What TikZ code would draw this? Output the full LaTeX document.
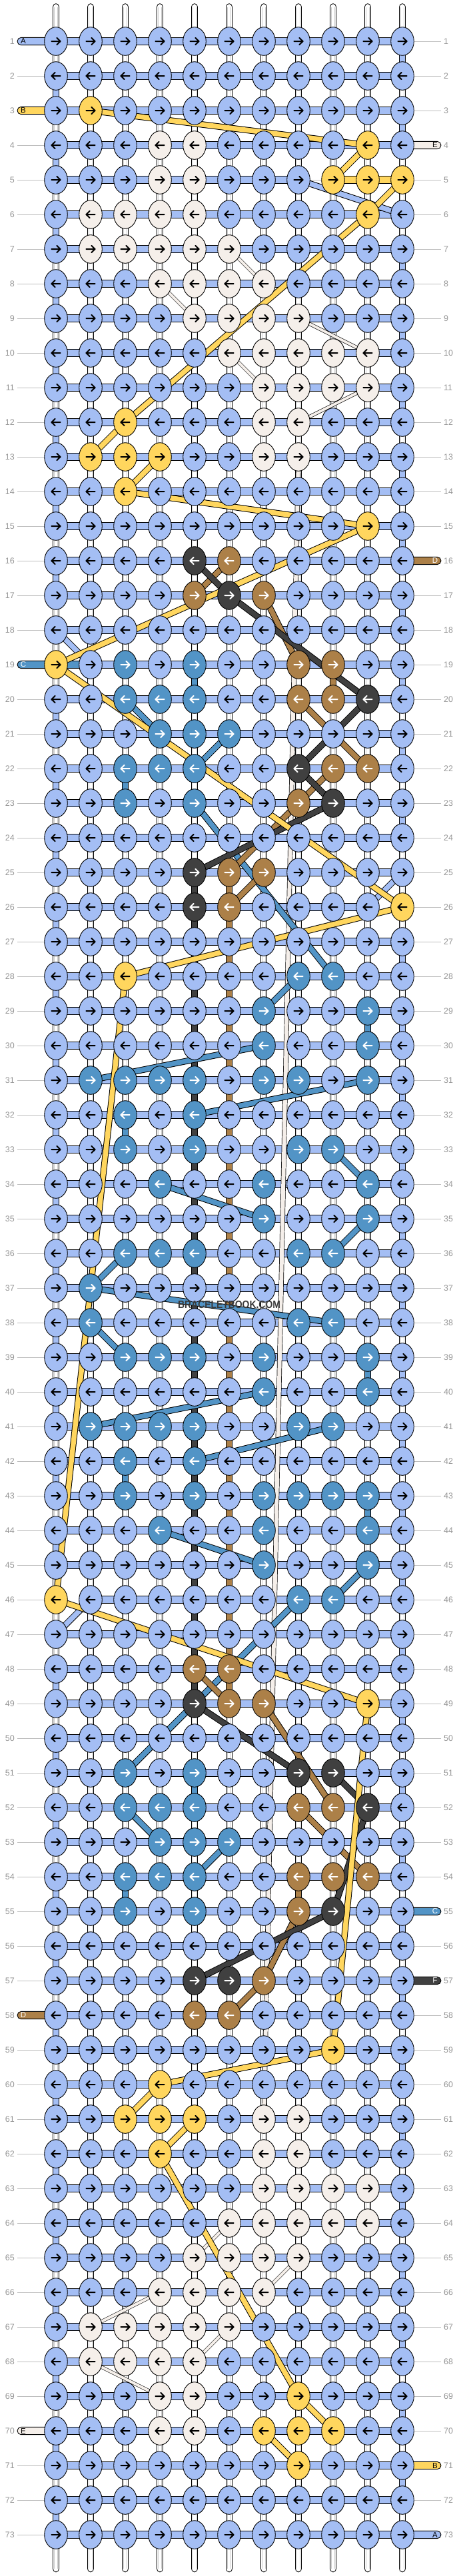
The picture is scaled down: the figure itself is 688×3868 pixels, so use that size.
\documentclass[tikz,border=0pt]{standalone}
\usepackage{fontspec}
\setmainfont{Liberation Sans}
\usetikzlibrary{shapes.geometric}
\definecolor{knotb}{HTML}{A4BEF4}
\definecolor{knoty}{HTML}{FFD65E}
\definecolor{knotw}{HTML}{F5EFEA}
\definecolor{knott}{HTML}{5294C6}
\definecolor{knotn}{HTML}{AC8048}
\definecolor{knotk}{HTML}{404040}
\colorlet{arrowb}{black}
\colorlet{arrowy}{black}
\colorlet{arroww}{black}
\colorlet{arrowt}{white}
\colorlet{arrown}{white}
\colorlet{arrowk}{white}
\definecolor{numgray}{HTML}{969696}
\definecolor{linegray}{HTML}{BDBDBD}
\definecolor{wmgray}{HTML}{3A3A3A}
\begin{document}
\begin{tikzpicture}[x=1pt,y=-1pt,
  knot/.style={ellipse, draw=black, line width=0.9pt, minimum width=34.6pt, minimum height=42.6pt, inner sep=0pt},
  arrowline/.style={line width=2pt, line cap=round, line join=round},
  strandln/.style={draw=black, line width=1pt, double=#1, double distance=7.5pt},
  thinln/.style={draw=black, line width=0.6pt, double=knotw, double distance=4pt},
  vseg/.style={draw=black, line width=1pt, double=#1, double distance=8.7pt},
  hbar/.style={draw=black, line width=1pt, double=#1, double distance=9.3pt},
  numtxt/.style={text=numgray, font=\fontsize{12.5}{14}\selectfont, inner sep=0pt},
  tabtxt/.style={font=\fontsize{11.5}{12}\selectfont, inner sep=0pt},
  rowline/.style={draw=linegray, line width=1pt},
  tabbox/.style={draw=black, line width=0.9pt, rounded corners=5.6pt}
]
\useasboundingbox (0,0) rectangle (688,3868);
\fill[white] (0,0) rectangle (688,3868);
% grid coordinates
\foreach \r in {1,...,73}{\foreach \c in {1,...,11}{\coordinate (p\r-\c) at ({84+52*(\c-1)},{62+52*(\r-1)});}}
% row guide lines
\foreach \r in {1,...,73}{
  \pgfmathsetmacro\yy{62+52*(\r-1)}
  \coordinate (gl\r) at (26,\yy);
  \coordinate (gr\r) at (662,\yy);
  \draw[rowline] (gl\r) -- (p\r-1);
  \draw[rowline] (p\r-11) -- (gr\r);
}
% vertical base strands
\foreach \c in {1,...,11}{
  \coordinate (tt\c) at ({84+52*(\c-1)},10.5);
  \coordinate (tb\c) at ({84+52*(\c-1)},3857);
  \draw[line width=10.7pt, black, line cap=round] (tt\c) -- (tb\c);
  \draw[line width=8.7pt, white, line cap=round] (tt\c) -- (tb\c);
  \draw[line width=5.8pt, black!20] (tt\c) -- (tb\c);
  \draw[line width=4.2pt, white] (tt\c) -- (tb\c);
}
% edge turns of strand A
\foreach \r in {1,3,...,71}{\ifnum\r=5\relax\else\ifnum\r=25\relax\else
  \pgfmathtruncatemacro\rn{\r+1}\draw[vseg=knotb] (p\r-11) -- (p\rn-11);\fi\fi}
\foreach \r in {2,4,...,72}{\ifnum\r=18\relax\else\ifnum\r=46\relax\else
  \pgfmathtruncatemacro\rn{\r+1}\draw[vseg=knotb] (p\r-1) -- (p\rn-1);\fi\fi}
% coloured vertical runs
\draw[vseg=knotk] (p25-5) -- (p49-5);
\draw[vseg=knotn] (p25-6) -- (p49-6);
\foreach \a/\b in {19-5/20-5, 22-3/23-3, 29-10/30-10, 32-3/33-3, 39-10/40-10, 42-3/43-3, 43-10/44-10, 51-5/52-5, 54-3/55-3}
  {\draw[vseg=knott] (p\a) -- (p\b);}
\foreach \a/\b in {19-9/20-9, 54-8/55-8}{\draw[vseg=knotn] (p\a) -- (p\b);}
% horizontal bars
\foreach \r in {1,...,73}{\ifnum\r=5\relax
  \draw[hbar=knotb] (p5-1) -- (p5-8);
  \draw[linegray, line width=1pt] (p5-8) -- (p5-9);
  \draw[hbar=knoty] (p5-9) -- (p5-11);
  \else\ifnum\r=26\relax
  \draw[hbar=knotb] (p26-1) -- (p26-10);
  \else\ifnum\r=46\relax
  \draw[hbar=knotb] (p46-2) -- (p46-11);
  \else\draw[hbar=knotb] (p\r-1) -- (p\r-11);\fi\fi\fi}
\draw[hbar=knott] (p19-1) -- (p19-2);
% strand tabs
\foreach \r/\l/\f/\t in {1/A/knotb/black, 3/B/knoty/black, 19/C/knott/white, 58/D/knotn/white, 70/E/knotw/black}{
  \pgfmathsetmacro\yy{62+52*(\r-1)}
  \draw[tabbox, fill=\f] (26,\yy-5.65) rectangle (76,\yy+5.65);
  \node[tabtxt, text=\t] (lt\r) at (35,\yy) {\l};
}
\foreach \r/\l/\f/\t in {4/E/knotw/black, 16/D/knotn/white, 55/C/knott/white, 57/F/knotk/white, 71/B/knoty/black, 73/A/knotb/black}{
  \pgfmathsetmacro\yy{62+52*(\r-1)}
  \draw[tabbox, fill=\f] (612,\yy-5.65) rectangle (662,\yy+5.65);
  \node[tabtxt, text=\t] (rt\r) at (653,\yy) {\l};
}
% carried strands
\foreach \a/\b in {7-6/8-7, 8-4/9-5, 9-8/10-10, 10-6/11-7, 11-10/12-8, 64-6/65-5, 65-8/66-7, 66-4/67-2, 67-6/68-5, 68-2/69-4}
  {\draw[thinln] (p\a) -- (p\b);}
\draw[draw=black, line width=0.7pt, double=knotw, double distance=6pt] (p13-8) -- (p61-7);
\foreach \a/\b in {5-8/6-11, 18-1/19-2, 25-11/26-10, 46-2/47-1}{\draw[strandln=knotb] (p\a) -- (p\b);}
\foreach \a/\b in {20-3/21-4, 21-6/22-5, 23-5/28-9, 28-8/29-7, 30-7/31-2, 31-10/32-5, 33-9/34-10, 34-4/35-7, 35-10/36-9, 36-3/37-2, 37-2/38-9, 38-2/39-3, 40-7/41-2, 41-9/42-5, 44-4/45-7, 45-10/46-9, 46-8/51-3, 52-3/53-4, 53-6/54-5}
  {\draw[strandln=knott] (p\a) -- (p\b);}
\foreach \a/\b in {16-6/17-5, 17-7/19-8, 20-8/22-10, 22-9/23-8, 23-8/25-6, 25-7/26-6, 48-5/49-6, 49-7/52-9, 52-8/54-10, 55-8/57-7, 57-7/58-6}
  {\draw[strandln=knotn] (p\a) -- (p\b);}
\foreach \a/\b in {16-5/17-6, 17-6/20-10, 20-10/22-8, 22-8/23-9, 23-9/25-5, 49-5/51-8, 51-9/52-10, 52-10/55-9, 55-9/57-5}
  {\draw[strandln=knotk] (p\a) -- (p\b);}
\foreach \a/\b in {3-2/4-10, 4-10/5-9, 5-11/6-10, 6-10/12-3, 12-3/13-2, 13-4/14-3, 14-3/15-10, 15-10/19-1, 19-1/26-11, 26-11/28-3, 28-3/46-1, 46-1/49-10, 49-10/59-9, 59-9/60-4, 60-4/61-3, 61-5/62-4, 62-4/69-8, 69-8/70-9, 70-7/71-8}
  {\draw[strandln=knoty] (p\a) -- (p\b);}
% knots
\foreach \r/\row in {
1/{b,b,b,b,b,b,b,b,b,b,b},
2/{b,b,b,b,b,b,b,b,b,b,b},
3/{b,y,b,b,b,b,b,b,b,b,b},
4/{b,b,b,w,w,b,b,b,b,y,b},
5/{b,b,b,w,w,b,b,b,y,y,y},
6/{b,w,w,w,w,b,b,b,b,y,b},
7/{b,w,w,w,w,w,b,b,b,b,b},
8/{b,b,b,w,w,w,w,b,b,b,b},
9/{b,b,b,b,w,w,w,w,b,b,b},
10/{b,b,b,b,b,w,w,w,w,w,b},
11/{b,b,b,b,b,b,w,w,w,w,b},
12/{b,b,y,b,b,b,w,w,b,b,b},
13/{b,y,y,y,b,b,w,w,b,b,b},
14/{b,b,y,b,b,b,b,b,b,b,b},
15/{b,b,b,b,b,b,b,b,b,y,b},
16/{b,b,b,b,k,n,b,b,b,b,b},
17/{b,b,b,b,n,k,n,b,b,b,b},
18/{b,b,b,b,b,b,b,b,b,b,b},
19/{y,b,t,b,t,b,b,n,n,b,b},
20/{b,b,t,t,t,b,b,n,n,k,b},
21/{b,b,b,t,t,t,b,b,b,b,b},
22/{b,b,t,t,t,b,b,k,n,n,b},
23/{b,b,t,b,t,b,b,n,k,b,b},
24/{b,b,b,b,b,b,b,b,b,b,b},
25/{b,b,b,b,k,n,n,b,b,b,b},
26/{b,b,b,b,k,n,b,b,b,b,y},
27/{b,b,b,b,b,b,b,b,b,b,b},
28/{b,b,y,b,b,b,b,t,t,b,b},
29/{b,b,b,b,b,b,t,b,b,t,b},
30/{b,b,b,b,b,b,t,b,b,t,b},
31/{b,t,t,t,t,b,t,t,b,t,b},
32/{b,b,t,b,t,b,b,b,b,b,b},
33/{b,b,t,b,t,b,b,t,t,b,b},
34/{b,b,b,t,b,b,t,b,b,t,b},
35/{b,b,b,b,b,b,t,b,b,t,b},
36/{b,b,t,t,t,b,b,t,t,b,b},
37/{b,t,b,b,b,b,b,b,b,b,b},
38/{b,t,b,b,b,b,b,t,t,b,b},
39/{b,b,t,t,t,b,t,b,b,t,b},
40/{b,b,b,b,b,b,t,b,b,t,b},
41/{b,t,t,t,t,b,b,t,t,b,b},
42/{b,b,t,b,t,b,b,b,b,b,b},
43/{b,b,t,b,t,b,t,t,t,t,b},
44/{b,b,b,t,b,b,t,b,b,t,b},
45/{b,b,b,b,b,b,t,b,b,t,b},
46/{y,b,b,b,b,b,b,t,t,b,b},
47/{b,b,b,b,b,b,b,b,b,b,b},
48/{b,b,b,b,n,n,b,b,b,b,b},
49/{b,b,b,b,k,n,n,b,b,y,b},
50/{b,b,b,b,b,b,b,b,b,b,b},
51/{b,b,t,b,t,b,b,k,k,b,b},
52/{b,b,t,t,t,b,b,n,n,k,b},
53/{b,b,b,t,t,t,b,b,b,b,b},
54/{b,b,t,t,t,b,b,n,n,n,b},
55/{b,b,t,b,t,b,b,n,k,b,b},
56/{b,b,b,b,b,b,b,b,b,b,b},
57/{b,b,b,b,k,k,n,b,b,b,b},
58/{b,b,b,b,n,n,b,b,b,b,b},
59/{b,b,b,b,b,b,b,b,y,b,b},
60/{b,b,b,y,b,b,b,b,b,b,b},
61/{b,b,y,y,y,b,w,w,b,b,b},
62/{b,b,b,y,b,b,w,w,b,b,b},
63/{b,b,b,b,b,b,w,w,w,w,b},
64/{b,b,b,b,b,w,w,w,w,w,b},
65/{b,b,b,b,w,w,w,w,b,b,b},
66/{b,b,b,w,w,w,w,b,b,b,b},
67/{b,w,w,w,w,w,b,b,b,b,b},
68/{b,w,w,w,w,b,b,b,b,b,b},
69/{b,b,b,w,w,b,b,y,b,b,b},
70/{b,b,b,w,w,b,y,y,y,b,b},
71/{b,b,b,b,b,b,b,y,b,b,b},
72/{b,b,b,b,b,b,b,b,b,b,b},
73/{b,b,b,b,b,b,b,b,b,b,b}}{
  \pgfmathsetmacro\dir{isodd(\r)?1:-1}
  \foreach \c [count=\i] in \row {
    \node[knot, fill=knot\c] (n\r-\i) at (p\r-\i) {};
    \draw[arrowline, draw=arrow\c, shift={(p\r-\i)}, xscale=\dir] (-6.6,0) -- (6.2,0) (1.3,-5.2) -- (6.6,0) -- (1.3,5.2);
  }
}
% row numbers
\foreach \r in {1,...,73}{
  \pgfmathsetmacro\yy{62+52*(\r-1)}
  \node[numtxt, anchor=east] (ln\r) at (22,\yy) {\r};
  \node[numtxt, anchor=west] (rn\r) at (666,\yy) {\r};
}
% watermark
\node[font=\bfseries\fontsize{16}{17}\selectfont, text=wmgray, xscale=0.87, inner sep=0pt] (wm) at (344,1959) {BRACELETBOOK.COM};
\end{tikzpicture}
\end{document}
